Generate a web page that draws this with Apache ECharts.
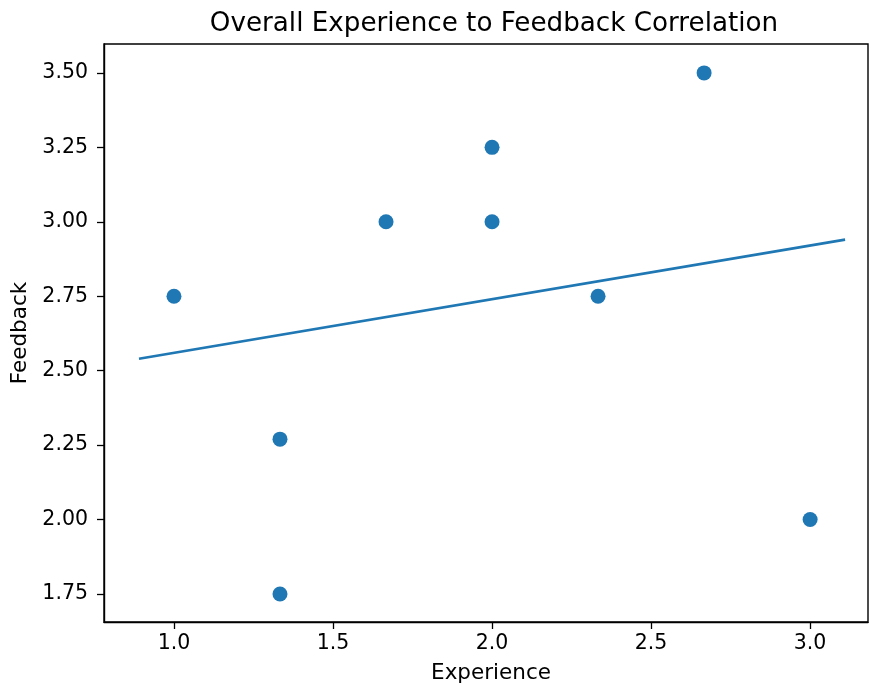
<!DOCTYPE html>
<html><head><meta charset="utf-8">
<script src="https://cdn.jsdelivr.net/npm/echarts@6/dist/echarts.min.js"></script>
<style>html,body{margin:0;padding:0;background:#fff}#c{width:869px;height:689px}</style>
</head><body><div id="c"></div>
<script>
const experience = [1.0, 1.3333, 1.3333, 1.6667, 2.0, 2.0, 2.3333, 2.6667, 3.0];
const feedback = [2.75, 2.27, 1.75, 3.0, 3.25, 3.0, 2.75, 3.5, 2.0];
const fitLine = [[0.89, 2.54], [3.11, 2.94]];
const xTicks = [1.0, 1.5, 2.0, 2.5, 3.0];
const yTicks = [1.75, 2.0, 2.25, 2.5, 2.75, 3.0, 3.25, 3.5];

const font = 'DejaVu Sans';
const chart = echarts.init(document.getElementById('c'));
chart.setOption({
  animation: false,
  title: {text: 'Overall Experience to Feedback Correlation', left: 489, top: 6, textAlign: 'center',
    textStyle: {fontFamily: font, fontSize: 26.2, fontWeight: 'normal', color: '#000'}},
  grid: {left: 104, right: 1, top: 44, bottom: 67, show: true, borderColor: '#000', borderWidth: 1.4, containLabel: false},
  xAxis: {type: 'value', min: 0.78, max: 3.182, name: 'Experience', nameLocation: 'middle', nameGap: 40,
    nameTextStyle: {fontFamily: font, fontSize: 21.5, color: '#000', padding: [0, 0, 0, 10]},
    axisLine: {show: true, onZero: false, lineStyle: {color: '#000', width: 1.4}},
    axisTick: {show: true, customValues: xTicks, length: 7, lineStyle: {color: '#000', width: 1.3}},
    axisLabel: {customValues: xTicks, fontFamily: font, fontSize: 20.5, color: '#000', margin: 11, formatter: v => v.toFixed(1)},
    splitLine: {show: false}},
  yAxis: {type: 'value', min: 1.656, max: 3.597, name: 'Feedback', nameLocation: 'middle', nameGap: 72,
    nameTextStyle: {fontFamily: font, fontSize: 21.5, color: '#000'},
    axisLine: {show: true, onZero: false, lineStyle: {color: '#000', width: 1.4}},
    axisTick: {show: true, customValues: yTicks, length: 7, lineStyle: {color: '#000', width: 1.3}},
    axisLabel: {customValues: yTicks, fontFamily: font, fontSize: 20.5, color: '#000', margin: 16, formatter: v => v.toFixed(2)},
    splitLine: {show: false}},
  series: [
    {type: 'line', data: fitLine, symbol: 'none', lineStyle: {color: '#1f77b4', width: 2.7}, z: 2},
    {type: 'scatter', data: experience.map((x, i) => [x, feedback[i]]), symbolSize: 15,
      itemStyle: {color: '#1f77b4', opacity: 1}, z: 3}
  ]
});
</script></body></html>
